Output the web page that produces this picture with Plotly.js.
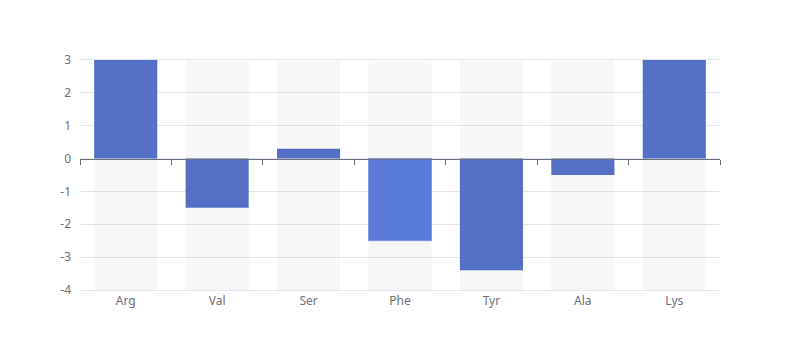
<!DOCTYPE html>
<html>
<head>
<meta charset="utf-8">
<script src="https://cdn.plot.ly/plotly-3.0.1.min.js"></script>
<style>html,body{margin:0;padding:0;background:#fff;}#chart{width:800px;height:360px;}</style>
</head>
<body>
<div id="chart"></div>
<script>
const categories = ['Arg', 'Val', 'Ser', 'Phe', 'Tyr', 'Ala', 'Lys'];
const values = [3, -1.5, 0.3, -2.5, -3.4, -0.5, 3];
const barColors = ['#5470c6', '#5470c6', '#5470c6', '#5a7ad8', '#5470c6', '#5470c6', '#5470c6'];
const barLineColors = ['#5470c6', '#5470c6', '#5470c6', '#8099e2', '#5470c6', '#5470c6', '#5470c6'];
const barLineWidths = [0, 0, 0, 1, 0, 0, 0];
const yMin = -4;
const yMax = 3;
const yTickVals = [-4, -3, -2, -1, 0, 1, 2, 3];
const yTickText = ['-4', '-3', '-2', '-1', '0', '1', '2', '3'];

const font = {family: 'Noto Sans, sans-serif', size: 12, color: '#6e7079'};

const background = {
  type: 'bar',
  x: categories,
  y: categories.map(() => yMax - yMin),
  base: categories.map(() => yMin),
  xaxis: 'x',
  yaxis: 'y',
  opacity: 1,
  marker: {color: 'rgba(180,180,180,0.1)', line: {width: 0}},
  hoverinfo: 'skip',
  showlegend: false
};

const bars = {
  type: 'bar',
  x: categories,
  y: values,
  xaxis: 'x2',
  yaxis: 'y',
  opacity: 1,
  marker: {color: barColors, line: {width: barLineWidths, color: barLineColors}},
  showlegend: false
};

const layout = {
  width: 800,
  height: 360,
  margin: {l: 80, r: 80, t: 60, b: 70},
  paper_bgcolor: '#ffffff',
  plot_bgcolor: '#ffffff',
  font: font,
  barmode: 'overlay',
  bargap: 0.31,
  showlegend: false,
  xaxis: {
    type: 'category',
    categoryorder: 'array',
    categoryarray: categories,
    showgrid: false,
    zeroline: false,
    showline: true,
    mirror: true,
    linecolor: '#e0e6f1',
    linewidth: 1,
    ticks: '',
    tickfont: font,
    fixedrange: true
  },
  xaxis2: {
    type: 'category',
    categoryorder: 'array',
    categoryarray: categories,
    overlaying: 'x',
    anchor: 'free',
    position: (0 - yMin) / (yMax - yMin),
    side: 'bottom',
    showgrid: false,
    zeroline: false,
    showline: true,
    linecolor: '#6e7079',
    linewidth: 1,
    ticks: 'outside',
    tickson: 'boundaries',
    ticklen: 5,
    tickcolor: '#6e7079',
    showticklabels: false,
    fixedrange: true
  },
  yaxis: {
    range: [yMin, yMax],
    tickvals: yTickVals,
    ticktext: yTickText,
    showgrid: true,
    gridcolor: '#e0e6f1',
    gridwidth: 1,
    zeroline: false,
    showline: false,
    ticks: '',
    ticklabelstandoff: 8,
    tickfont: font,
    fixedrange: true
  }
};

Plotly.newPlot('chart', [background, bars], layout, {displayModeBar: false, staticPlot: true});
</script>
</body>
</html>
